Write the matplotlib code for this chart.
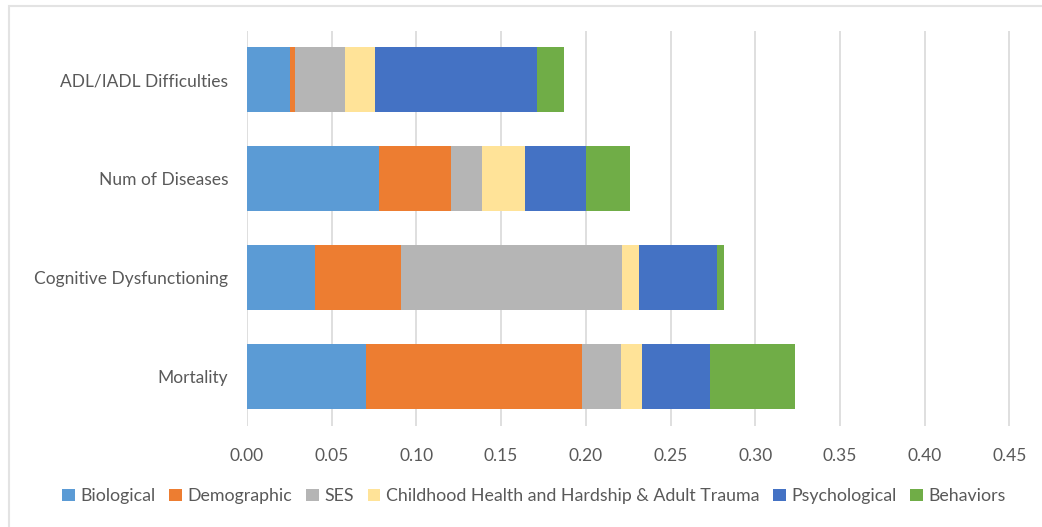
import matplotlib.pyplot as plt
from matplotlib.patches import Rectangle

# Data
outcomes = ['Mortality', 'Cognitive Dysfunctioning', 'Num of Diseases', 'ADL/IADL Difficulties']
groups = ['Biological', 'Demographic', 'SES', 'Childhood Health and Hardship & Adult Trauma',
          'Psychological', 'Behaviors']
biological = [0.0704, 0.0403, 0.0781, 0.0254]
demographic = [0.1275, 0.0504, 0.0421, 0.0028]
ses = [0.0227, 0.1305, 0.0185, 0.0298]
childhood = [0.0127, 0.0102, 0.0254, 0.0176]
psychological = [0.0398, 0.0458, 0.0358, 0.0956]
behaviors = [0.0503, 0.0044, 0.0262, 0.0158]
xticks = [0.00, 0.05, 0.10, 0.15, 0.20, 0.25, 0.30, 0.35, 0.40, 0.45]

series = [biological, demographic, ses, childhood, psychological, behaviors]
colors = ['#5b9bd5', '#ed7d31', '#b5b5b5', '#ffe398', '#4472c4', '#70ad47']

plt.rcParams['font.family'] = ['Lato', 'DejaVu Sans']

W, H = 1042, 527
fig = plt.figure(figsize=(W / 100, H / 100), dpi=100)
ax = fig.add_axes([247 / W, 1 - 425.5 / H, (1042 - 247) / W, (425.5 - 30.5) / H])

left = [0.0] * len(outcomes)
for vals, name, c in zip(series, groups, colors):
    ax.barh(range(len(outcomes)), vals, left=left, height=0.66, color=c,
            label=name, zorder=3)
    left = [a + b for a, b in zip(left, vals)]

ax.set_xlim(0, (1042 - 247) / 1694)
ax.set_ylim(-0.5, 3.5)
ax.set_xticks(xticks)
ax.set_xticklabels([f'{t:.2f}' for t in xticks])
ax.set_yticks(range(len(outcomes)))
ax.set_yticklabels(outcomes)
ax.tick_params(axis='both', length=0, labelsize=12.5, colors='#595959')
ax.tick_params(axis='x', pad=16)
ax.tick_params(axis='y', pad=13.5)
ax.xaxis.grid(True, color='#d9d9d9', linewidth=1.2, zorder=0)
for s in ax.spines.values():
    s.set_visible(False)

fig.legend(loc='center', bbox_to_anchor=(534 / W, 1 - 496 / H), ncol=6, frameon=False,
           fontsize=12.8, labelcolor='#595959', handlelength=0.7, handleheight=0.7,
           handletextpad=0.3, columnspacing=0.8)

fig.patches.append(Rectangle((8.5 / W, -0.1), 1.2, 1 - 5.5 / H + 0.1, transform=fig.transFigure,
                             fill=False, edgecolor='#e3e3e3', linewidth=1.5))

fig.savefig('out.png', dpi=100)
